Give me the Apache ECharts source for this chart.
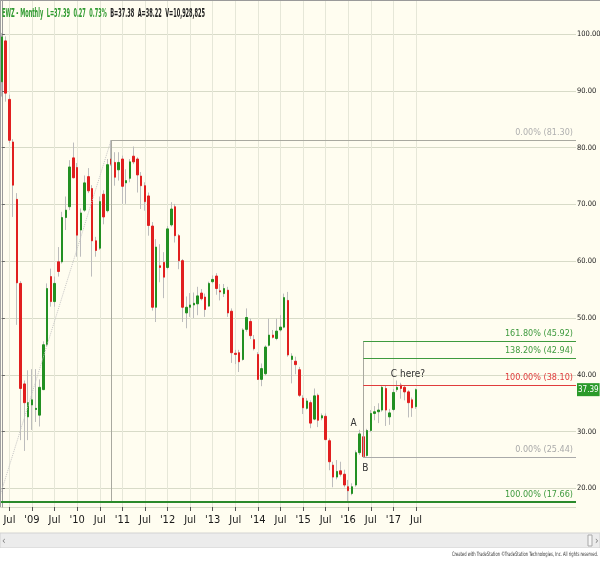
<!DOCTYPE html>
<html><head><meta charset="utf-8">
<script src="https://cdn.jsdelivr.net/npm/echarts@6/dist/echarts.min.js"></script>
<style>html,body{margin:0;padding:0;background:#fff;}#c{width:600px;height:561px;}</style>
</head><body><div id="c"></div>
<script>
// ---------- DATA ----------
const MONTH_NAMES = ['Jan','Feb','Mar','Apr','May','Jun','Jul','Aug','Sep','Oct','Nov','Dec'];
const AXIS_MONTHS = 153; // May 2008 .. Jan 2021 (empty space right of the last bar)
const categories = [];
for (let k = 0; k < AXIS_MONTHS; k++) {
  const m = (4 + k) % 12, y = 2008 + Math.floor((4 + k) / 12);
  categories.push(MONTH_NAMES[m] + ' ' + y);
}
// Monthly EWZ bars, May 2008 .. Jul 2017
const opens  = [91.6,98.8,88.5,81.0,70.9,56.1,38.4,32.6,34.7,33.9,32.9,37.4,45.3,57.3,52.9,59.9,59.9,67.7,69.6,78.2,
  76.5,65.5,69.0,74.9,72.8,63.6,62.3,71.8,68.9,78.0,77.4,76.1,78.0,73.8,74.6,78.5,78.0,75.0,73.3,71.5,
  66.2,51.9,59.2,59.8,58.9,66.4,69.6,64.5,60.1,50.9,51.9,52.3,52.5,54.4,53.7,52.1,56.4,57.4,54.8,54.3,
  54.9,51.2,43.8,43.9,42.7,48.0,49.4,46.2,43.6,39.2,40.2,45.2,47.0,46.4,47.9,48.4,53.1,42.7,42.4,40.9,
  35.9,34.1,35.1,32.2,36.4,32.4,32.7,28.4,24.1,22.0,23.1,22.5,20.3,19.1,20.6,26.3,29.1,25.8,30.2,33.2,
  33.5,33.8,37.6,32.6,33.9,37.4,38.2,37.8,37.0,35.6,34.4];
const closes = [99.5,89.6,81.3,73.4,56.2,37.6,35.1,35.1,35.6,34.1,37.8,45.3,55.2,52.9,56.1,58.2,67.7,69.0,76.6,74.7,
  64.6,68.5,73.8,72.4,63.6,61.9,70.5,67.8,77.0,77.1,74.8,77.4,73.2,74.2,77.5,77.5,75.2,73.3,70.5,66.3,
  51.9,62.5,58.9,57.2,65.7,69.2,64.5,60.1,51.9,51.9,52.3,52.6,53.9,53.4,51.5,56.1,56.8,55.2,54.6,55.2,
  50.9,43.9,43.6,42.3,47.9,50.1,46.9,44.6,39.2,41.1,44.9,47.0,46.6,47.7,48.4,53.6,43.5,43.3,41.8,36.4,
  34.2,35.4,31.5,36.3,32.0,32.8,28.6,24.7,22.0,23.0,22.5,20.6,19.6,20.3,26.3,29.6,25.6,30.2,33.2,33.5,
  33.8,37.8,33.8,33.3,36.9,37.8,37.6,37.0,35.1,34.2,37.39];
const lows   = [89.0,88.1,80.8,67.8,48.8,28.5,26.6,28.5,30.3,31.7,30.9,37.3,45.0,52.0,52.0,57.3,59.6,65.5,69.0,74.6,
  60.8,60.8,68.7,72.0,57.3,60.8,62.0,66.5,68.6,76.8,73.3,74.2,70.1,70.1,73.9,77.1,72.1,69.2,68.9,64.5,
  51.3,49.3,56.3,53.5,58.6,66.1,63.3,58.6,49.3,48.2,50.2,50.0,50.5,53.1,50.2,52.0,56.1,54.1,53.1,53.7,
  50.2,42.1,41.9,40.5,42.5,47.6,46.3,44.3,39.1,38.0,39.9,45.0,46.4,46.1,47.6,48.2,43.2,38.5,40.1,36.1,
  33.1,33.9,30.6,32.0,30.8,32.0,28.5,23.2,20.2,21.6,22.1,20.2,17.66,18.8,20.3,25.9,25.44,25.6,29.9,32.0,
  31.5,33.5,31.0,31.2,33.6,37.0,35.8,35.5,32.5,32.6,34.0];
const highs  = [100.2,99.6,89.3,81.5,72.0,56.5,39.0,40.8,41.0,41.0,39.2,45.9,56.1,58.7,57.3,62.5,68.7,71.4,77.8,80.9,
  77.3,69.3,75.1,76.4,73.4,64.3,71.4,72.5,78.0,81.3,79.2,79.2,78.6,76.2,78.0,80.2,78.3,75.7,73.9,72.1,
  66.9,63.9,63.0,61.6,66.2,70.4,70.1,64.8,60.4,53.8,54.4,54.5,55.5,55.1,54.3,56.4,57.5,57.9,56.0,56.0,
  55.5,51.7,44.4,44.4,48.2,51.7,49.9,47.0,44.0,42.0,45.2,49.9,47.9,49.9,50.5,54.3,54.6,43.8,43.2,41.4,
  36.4,35.9,35.5,37.6,36.7,33.2,33.2,28.8,24.7,25.0,24.7,23.3,21.5,20.9,26.7,30.32,29.6,30.5,33.8,34.5,
  35.0,38.1,38.2,34.0,37.5,39.0,38.6,38.2,37.3,36.0,37.6];

// time-axis tick labels
const tickCats   = ['Jul 2008','Jan 2009','Jul 2009','Jan 2010','Jul 2010','Jan 2011','Jul 2011','Jan 2012','Jul 2012','Jan 2013',
                    'Jul 2013','Jan 2014','Jul 2014','Jan 2015','Jul 2015','Jan 2016','Jul 2016','Jan 2017','Jul 2017'];
const tickLabels = ['Jul',"'09",'Jul',"'10",'Jul',"'11",'Jul',"'12",'Jul',"'13",'Jul',"'14",'Jul',"'15",'Jul',"'16",'Jul',"'17",'Jul'];
const priceTicks = [20,30,40,50,60,70,80,90,100];

// Fibonacci drawing (retracement from the 2010 high, extension from the 2016 swing)
const fibHighMonth = 'Oct 2010', fibHighValue = 81.30, fibLowValue = 17.66;
const fibLowOffsetMonths = -30;           // low anchor lies off the left edge
const extMonth = 'May 2016';
const extLevels = [45.92, 42.94, 38.10, 25.44];
const extTexts  = ['161.80% (45.92)', '138.20% (42.94)', '100.00% (38.10)', '0.00% (25.44)'];
const swingA = {month:'Apr 2016', value:30.32}, swingB = {month:'May 2016', value:25.44}, swingC = {month:'Mar 2017', value:38.6};
const header1 = 'EWZ - Monthly  L=37.39  0.27  0.73%';
const header2 = 'B=37.38  A=38.22  V=10,928,825';
const lastPrice = 37.39;

// ---------- CHART ----------
const FONT = "'Liberation Sans Narrow','DejaVu Sans Condensed','Arial Narrow',sans-serif";
const GREEN = '#229022', RED = '#e11f1f';
const N = categories.length;
const idx = m => categories.indexOf(m);
const mctx = document.createElement('canvas').getContext('2d');
function fitScale(text, font, w){ mctx.font = font; return w / mctx.measureText(text).width; }

const rangeData = opens.map((o,k)=>[o, closes[k], lows[k], highs[k]]);
const bodyData  = opens.map((o,k)=>[o, closes[k], Math.min(o,closes[k]), Math.max(o,closes[k])]);

const hi = idx(fibHighMonth), ex = idx(extMonth);
const extColors = ['#3e9a3e','#3e9a3e','#e03c3c','#aaaaaa'];
const fibMarks = [
  [{coord:[hi, fibHighValue], lineStyle:{color:'#a9a9a0',width:1,type:'solid'},
    label:{show:true, position:'insideEndTop', formatter:'0.00% (81.30)', color:'#b0b0b0'}}, {coord:[N-0.5, fibHighValue]}],
  [{coord:[hi, fibHighValue], lineStyle:{color:'#a9a9a0',width:1,type:'solid'}, label:{show:false}}, {coord:[hi, fibLowValue]}],
  [{coord:[-0.5, fibLowValue], lineStyle:{color:'#2b8a2b',width:2,type:'solid'},
    label:{show:true, position:'insideEndTop', formatter:'100.00% (17.66)', color:'#3e9a3e'}}, {coord:[N-0.5, fibLowValue]}],
  [{coord:[ex, extLevels[0]], lineStyle:{color:'#a9a9a0',width:1,type:'solid'}, label:{show:false}}, {coord:[ex, extLevels[3]]}]
];
extLevels.forEach((v,k)=>{
  fibMarks.push([{coord:[ex, v], lineStyle:{color:extColors[k], width:1, type:'solid'},
    label:{show:true, position:'insideEndTop', formatter:extTexts[k], color:extColors[k]}}, {coord:[N-0.5, v]}]);
});

const hdrFont = 'bold 13px ' + FONT;
const hdrScale = fitScale(header1 + '  ' + header2, hdrFont, 203);
const footer = 'Created with TradeStation \u00A9TradeStation Technologies, Inc. All rights reserved.';
const ftFont = '6px ' + FONT;
const ftScale = fitScale(footer, ftFont, 146);

const option = {
  animation:false,
  backgroundColor:'#fffdf0',
  grid:{left:0, right:24, top:0, bottom:54, containLabel:false, outerBoundsMode:'none',
    show:true, backgroundColor:'#fffdf0', borderWidth:0},
  xAxis:[{
    type:'category', data:categories, boundaryGap:true,
    axisLine:{show:false},
    axisTick:{show:true, alignWithLabel:true, length:4, interval:(i,v)=>tickCats.indexOf(v)>=0, lineStyle:{color:'#555'}},
    axisLabel:{interval:(i,v)=>tickCats.indexOf(v)>=0, formatter:v=>tickLabels[tickCats.indexOf(v)],
      fontFamily:FONT, fontSize:11, color:'#1a1a1a', margin:8, hideOverlap:false},
    splitLine:{show:false}
  },{
    type:'value', min:-0.5, max:N-0.5, show:false
  }],
  yAxis:{
    type:'value', position:'right', min:16.73, max:106, minInterval:10, maxInterval:10, splitNumber:9,
    axisLine:{show:true, lineStyle:{color:'#9a9a9a'}},
    axisTick:{show:true, length:3, lineStyle:{color:'#666'}},
    axisLabel:{showMinLabel:false, showMaxLabel:false, formatter:v=>priceTicks.indexOf(Math.round(v))>=0 ? v.toFixed(2) : '',
      fontFamily:FONT, fontSize:7.5, color:'#1a1a1a', margin:1},
    splitLine:{show:true, lineStyle:{color:'#d8dbc8'}}
  },
  series:[{
    type:'candlestick', name:'range', data:rangeData, barWidth:1, z:2,
    itemStyle:{color:'#bdbdbd', color0:'#bdbdbd', borderColor:'#bdbdbd', borderColor0:'#bdbdbd', borderWidth:1},
    markLine:{z:1, silent:true, symbol:['none','none'], label:{show:false}, animation:false,
      lineStyle:{color:'#e6e7d8', type:'solid', width:1},
      data: tickCats.map(c=>({xAxis: idx(c)}))}
  },{
    type:'candlestick', name:'EWZ', data:bodyData, barWidth:2, z:3,
    itemStyle:{color:GREEN, color0:RED, borderColor:GREEN, borderColor0:RED, borderWidth:1},
    markPoint:{symbol:'circle', symbolSize:1, itemStyle:{color:'rgba(0,0,0,0)'}, silent:true,
      label:{show:true, position:'inside', fontFamily:FONT, fontSize:10, color:'#333'},
      data:[
        {coord:[idx(swingA.month), swingA.value], label:{formatter:'A', offset:[-6,-6]}},
        {coord:[idx(swingB.month), swingB.value], label:{formatter:'B', offset:[2,11]}},
        {coord:[idx(swingC.month), swingC.value], label:{formatter:'C here?', offset:[7,-8]}}
      ]},
    markLine:{silent:true, symbol:['none','none'], lineStyle:{color:'rgba(0,0,0,0)', width:0},
      label:{show:true, position:'end', distance:1, formatter:lastPrice.toFixed(2), backgroundColor:'#2a9a2a',
        color:'#fff', padding:[3,1,2,1], fontFamily:FONT, fontSize:8},
      data:[{yAxis:lastPrice}]}
  },{
    type:'line', name:'fib', xAxisIndex:1, yAxisIndex:0, z:4, symbol:'none', silent:true,
    data:[[hi + fibLowOffsetMonths, fibLowValue],[hi, fibHighValue]],
    lineStyle:{type:'dotted', color:'#c4c4c4', width:1},
    markLine:{silent:true, symbol:['none','none'], z:5,
      label:{fontFamily:FONT, fontSize:9, distance:3},
      data:fibMarks}
  }],
  graphic:[
    {type:'rect', shape:{x:0,y:533,width:600,height:15}, style:{fill:'#ececec', stroke:'#d2d2d2', lineWidth:1}, z:10},
    {type:'rect', shape:{x:0,y:548,width:600,height:13}, style:{fill:'#ffffff'}, z:10},
    {type:'rect', shape:{x:588,y:535,width:4,height:11}, style:{fill:'#f6f6f6', stroke:'#a8a8a8', lineWidth:1}, z:11},
    {type:'text', x:2, y:536, style:{text:'\u2039', fill:'#777', font:'10px ' + FONT}, z:11},
    {type:'text', x:595, y:536, style:{text:'\u203A', fill:'#777', font:'10px ' + FONT}, z:11},
    {type:'line', shape:{x1:0,y1:0.5,x2:600,y2:0.5}, style:{stroke:'#9a9a9a', lineWidth:1}, z:10},
    {type:'line', shape:{x1:0.5,y1:0,x2:0.5,y2:507}, style:{stroke:'#a0a0a0', lineWidth:1}, z:10},
    {type:'text', x:2, y:7, scaleX:hdrScale, z:12,
      style:{text:'{g|' + header1 + '}  {k|' + header2 + '}', font:hdrFont,
        rich:{g:{fill:'#2f9a2f', font:hdrFont}, k:{fill:'#222', font:hdrFont}}}},
    {type:'text', x:598 - 146, y:551, scaleX:ftScale, z:12, style:{text:footer, font:ftFont, fill:'#333'}}
  ]
};
const chart = echarts.init(document.getElementById('c'), null, {width:600, height:561});
chart.setOption(option);
</script></body></html>
